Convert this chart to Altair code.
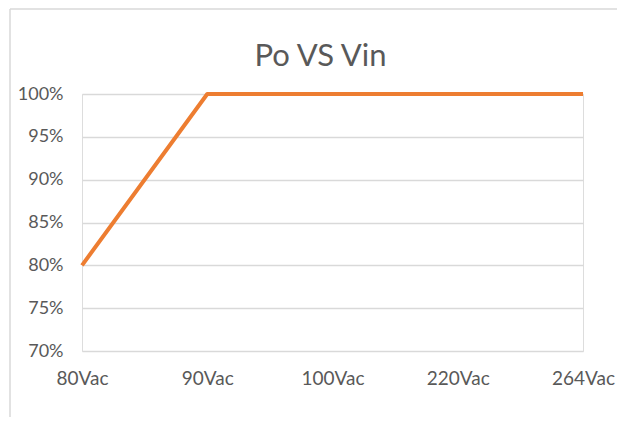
import altair as alt
import pandas as pd

categories = ["80Vac", "90Vac", "100Vac", "220Vac", "264Vac"]
po_values = [0.80, 1.00, 1.00, 1.00, 1.00]
y_ticks = [0.70, 0.75, 0.80, 0.85, 0.90, 0.95, 1.00]

df = pd.DataFrame({"vin": categories, "po": po_values})
frame_df = pd.DataFrame({"k": [0]})

FONT = "Lato"
TXT = "#595959"

line = alt.Chart(df).mark_line(
    color="#ED7D31", strokeWidth=4, strokeCap="butt", strokeJoin="round"
).encode(
    x=alt.X("vin:N", sort=categories, title=None,
            scale=alt.Scale(type="point", padding=0),
            axis=alt.Axis(labelAngle=0, domain=False, ticks=False, grid=False,
                          labelFont=FONT, labelFontSize=19, labelColor=TXT,
                          labelPadding=18)),
    y=alt.Y("po:Q", title=None,
            scale=alt.Scale(domain=[0.70, 1.00], nice=False, zero=False),
            axis=alt.Axis(values=y_ticks, format=".0%", domain=False, ticks=False,
                          grid=True, gridColor="#d9d9d9", gridWidth=1.5,
                          labelFont=FONT, labelFontSize=18, labelColor=TXT,
                          labelPadding=19)),
)

# chart frame: left and top edges (the right and bottom edges lie off the picture)
frame_left = alt.Chart(frame_df).mark_rule(color="#d9d9d9", strokeWidth=1.5).encode(
    x=alt.value(-72), y=alt.value(-85), y2=alt.value(330)
)
frame_top = alt.Chart(frame_df).mark_rule(color="#d9d9d9", strokeWidth=1.5).encode(
    x=alt.value(-72), x2=alt.value(540), y=alt.value(-85)
)

chart = alt.layer(frame_left, frame_top, line).properties(
    width=501, height=257,
    autosize=alt.AutoSizeParams(type="none"),
    padding={"left": 74, "top": 86, "right": 34, "bottom": 66},
    title=alt.TitleParams("Po VS Vin", font=FONT, fontSize=31, color=TXT,
                          fontWeight="normal", anchor="middle", frame="group",
                          baseline="alphabetic", offset=-89, dx=-12),
).configure_view(stroke=None).configure(background="white")

chart.save("out.html", embed_options={"renderer": "svg", "actions": False})
